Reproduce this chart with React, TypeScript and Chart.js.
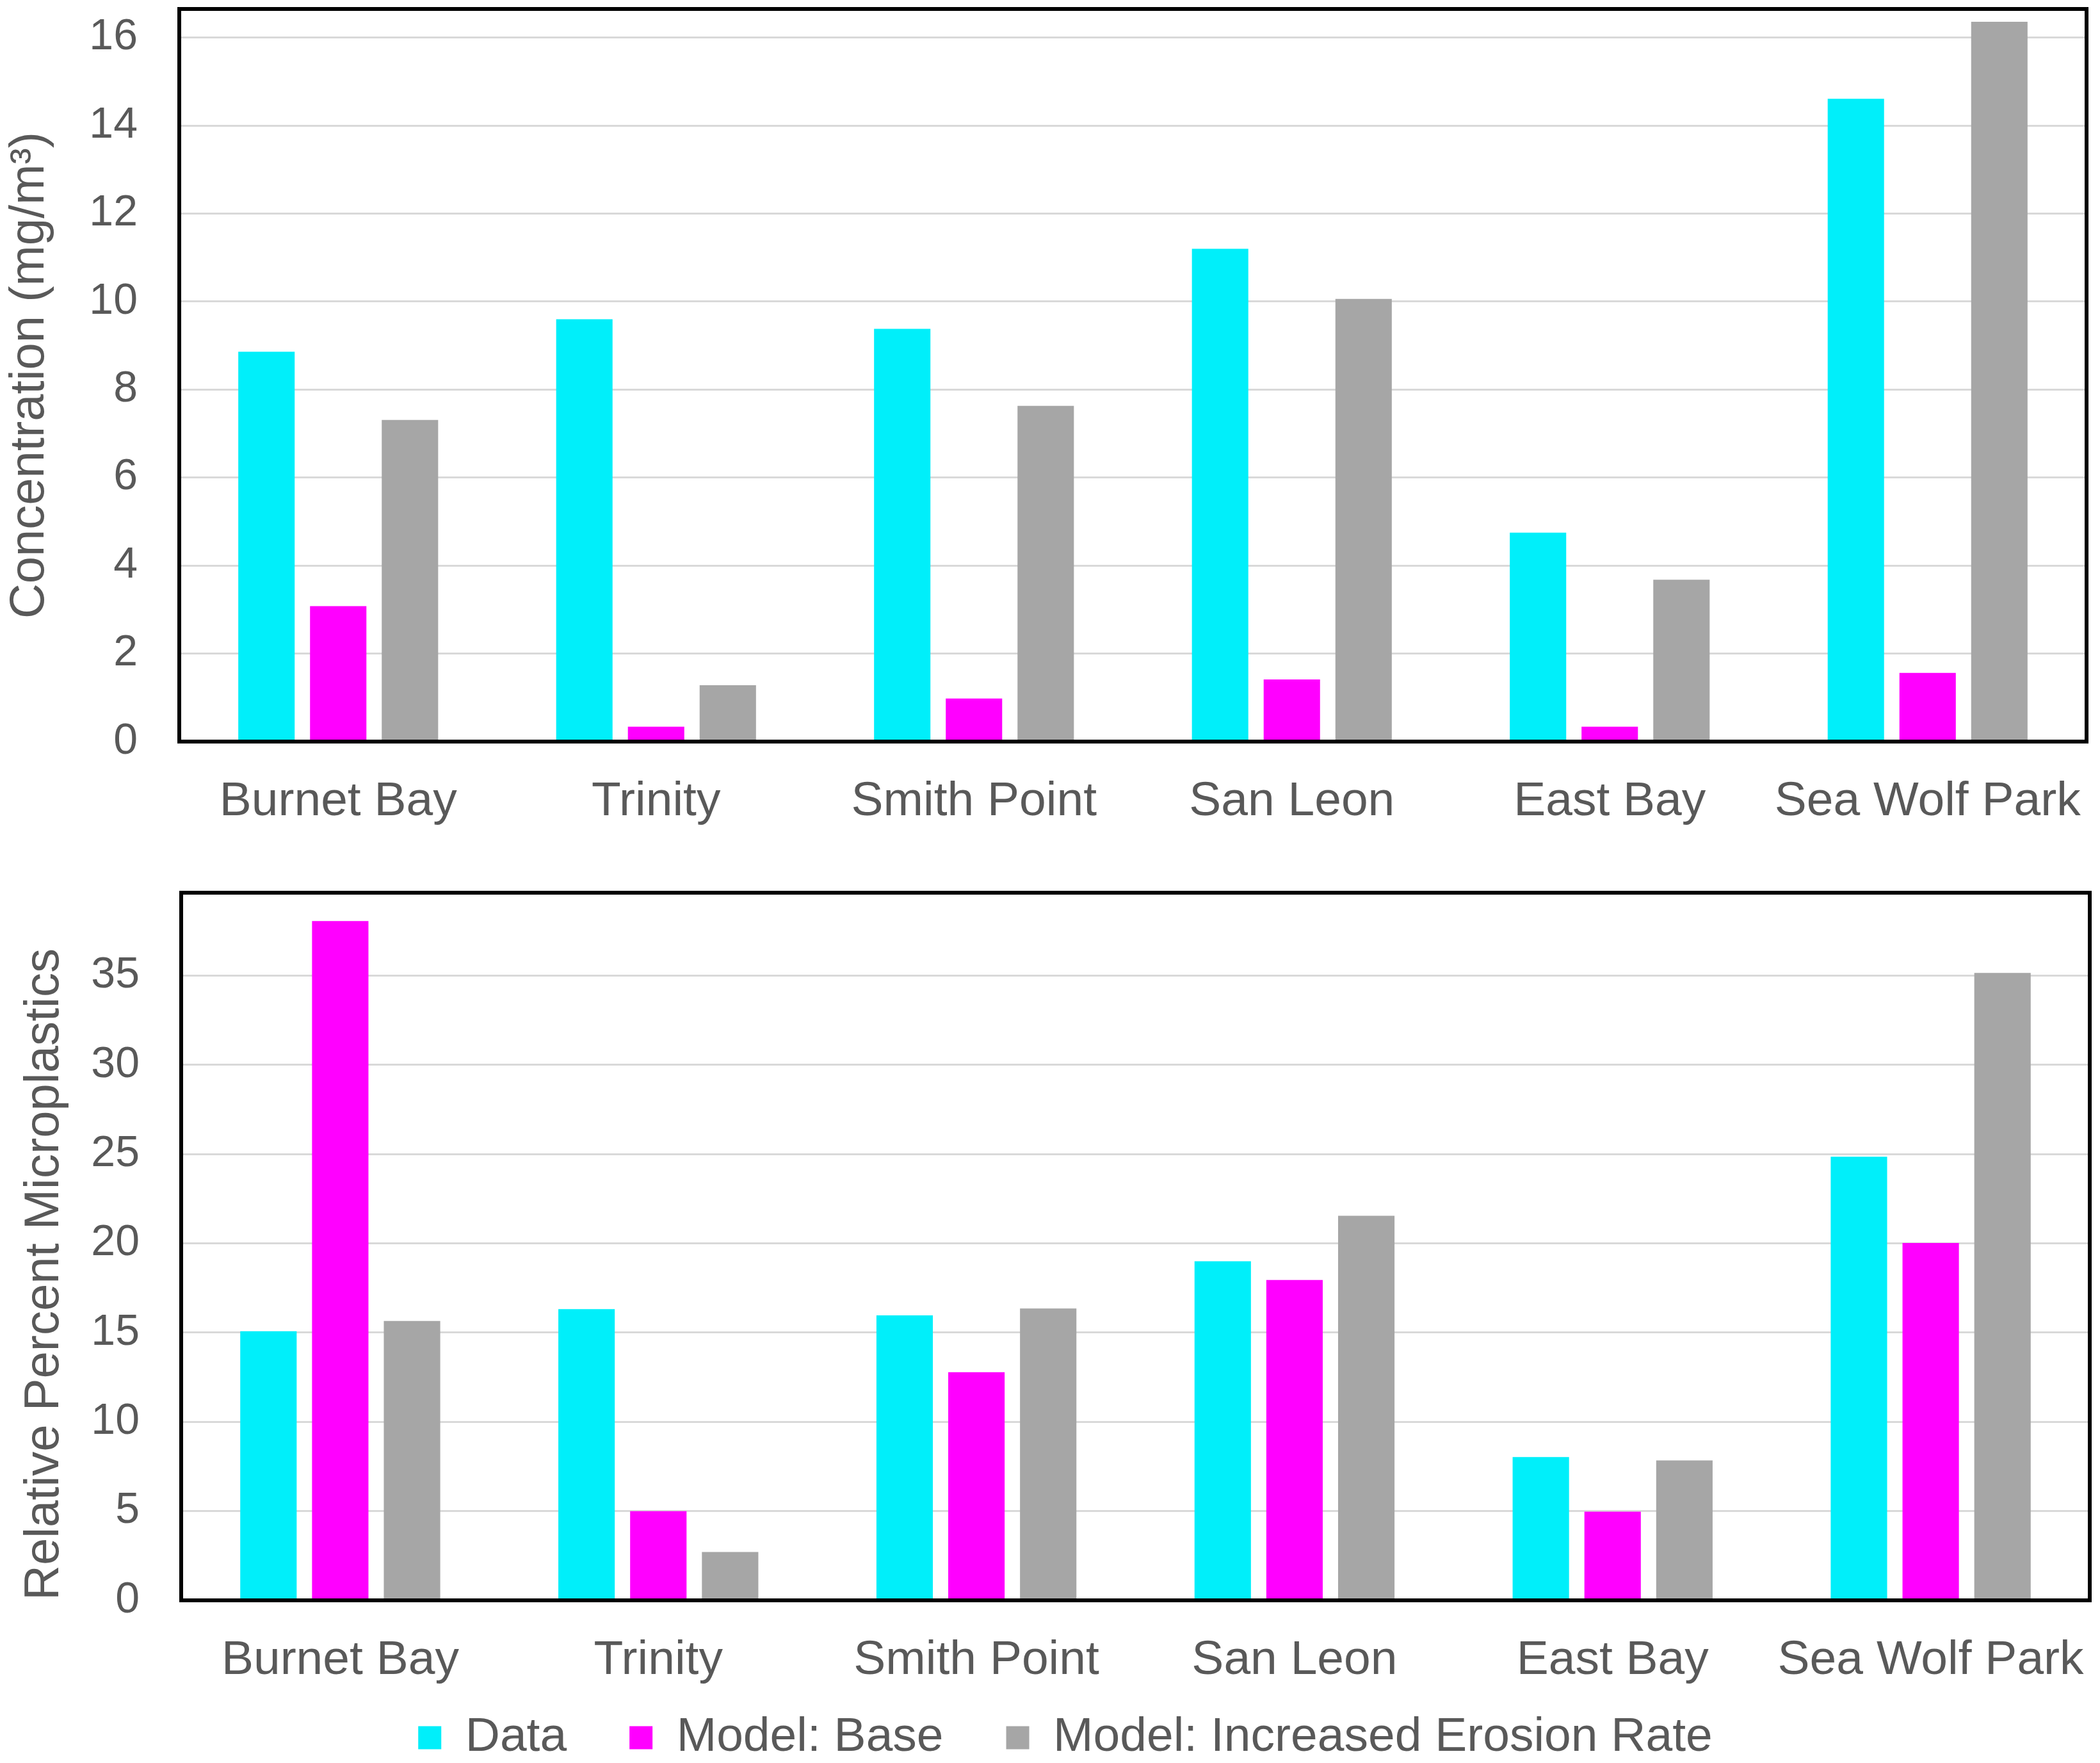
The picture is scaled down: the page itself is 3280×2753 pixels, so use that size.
import React, { useEffect, useRef } from 'react';
import Chart from 'chart.js/auto';

// sampling sites (x categories)
const sites = ['Burnet Bay', 'Trinity', 'Smith Point', 'San Leon', 'East Bay', 'Sea Wolf Park'];
const seriesNames = ['Data', 'Model: Base', 'Model: Increased Erosion Rate'];
const seriesColors = ['#00EFFA', '#FF00FF', '#A6A6A6'];

// top panel: concentration (mg/m3)
const concData = [8.86, 9.6, 9.38, 11.2, 4.75, 14.61];
const concBase = [3.08, 0.34, 0.98, 1.41, 0.34, 1.56];
const concErosion = [7.31, 1.28, 7.63, 10.06, 3.68, 16.36];

// bottom panel: relative percent microplastics
const pctData = [15.08, 16.32, 15.97, 19.0, 8.03, 24.86];
const pctBase = [38.06, 5.0, 12.78, 17.95, 4.97, 20.02];
const pctErosion = [15.65, 2.71, 16.35, 21.55, 7.84, 35.16];

const FONT = "'Liberation Sans', Arial, sans-serif";
const TEXT = '#595959';

// black box around the plot area
const framePlugin = {
  id: 'frame',
  afterDatasetsDraw(chart: any) {
    const { ctx, chartArea: a } = chart;
    ctx.save();
    ctx.strokeStyle = '#000';
    ctx.lineWidth = 6;
    ctx.strokeRect(a.left, a.top, a.right - a.left, a.bottom - a.top);
    ctx.restore();
  },
};

// x labels are clipped to the axis box, give them room below a short axis;
// also nudge the legend a bit to the right like in the original
const layoutTweaks = {
  id: 'layoutTweaks',
  afterLayout(chart: any) {
    const x = chart.scales.x;
    if (x) x.bottom = Math.max(x.bottom, x.top + 160);
    const lg = chart.legend;
    if (lg && lg.options.display) {
      lg.left += 32;
      lg.right += 32;
    }
  },
};

type PanelOpts = {
  values: number[][];
  yTitle: string;
  yMax: number;
  yStep: number;
  yWidth: number;
  xHeight: number;
  padding: { top: number; right: number; bottom: number; left: number };
  titlePad: number;
  titleAlign: 'start' | 'center' | 'end';
  showLegend: boolean;
};

function makeConfig(o: PanelOpts): any {
  return {
    type: 'bar',
    data: {
      labels: sites,
      datasets: o.values.map((v, i) => ({
        label: seriesNames[i],
        data: v,
        backgroundColor: seriesColors[i],
        borderWidth: 0,
        categoryPercentage: 0.677,
        barPercentage: 0.786,
      })),
    },
    options: {
      responsive: false,
      animation: false,
      layout: { padding: o.padding },
      plugins: {
        tooltip: { enabled: false },
        legend: {
          display: o.showLegend,
          position: 'bottom',
          labels: {
            boxWidth: 36,
            boxHeight: 36,
            padding: 98,
            color: TEXT,
            font: { family: FONT, size: 75 },
          },
        },
      },
      scales: {
        x: {
          grid: { display: false, drawTicks: false },
          border: { display: false },
          ticks: {
            color: TEXT,
            font: { family: FONT, size: 75 },
            padding: 49,
            maxRotation: 0,
            autoSkip: false,
          },
          afterFit: (s: any) => {
            s.height = o.xHeight;
            s.paddingLeft = 0;
            s.paddingRight = 0;
          },
        },
        y: {
          min: 0,
          max: o.yMax,
          grid: { color: '#D9D9D9', lineWidth: 3, drawTicks: false },
          border: { display: false },
          ticks: {
            stepSize: o.yStep,
            includeBounds: false,
            color: TEXT,
            font: { family: FONT, size: 68 },
            padding: 65,
          },
          title: {
            display: true,
            text: o.yTitle,
            color: TEXT,
            align: o.titleAlign,
            font: { family: FONT, size: 76 },
            padding: { top: o.titlePad, bottom: 0 },
          },
          afterFit: (s: any) => {
            s.width = o.yWidth;
            s.paddingTop = 0;
            s.paddingBottom = 0;
          },
        },
      },
    },
    plugins: [framePlugin, layoutTweaks],
  };
}

const Panel: React.FC<{ opts: PanelOpts; width: number; height: number; top: number }> = ({ opts, width, height, top }) => {
  const ref = useRef<HTMLCanvasElement | null>(null);

  useEffect(() => {
    if (!ref.current) return;
    const chart = new Chart(ref.current, makeConfig(opts));
    return () => {
      chart.destroy();
    };
  }, [opts]);

  return (
    <canvas
      ref={ref}
      width={width}
      height={height}
      style={{ position: 'absolute', left: 0, top, width, height, display: 'block' }}
    />
  );
};

const topOpts: PanelOpts = {
  values: [concData, concBase, concErosion],
  yTitle: 'Concentration (mg/m³)',
  yMax: 16.65,
  yStep: 2,
  yWidth: 280,
  xHeight: 162,
  padding: { top: 14, right: 21, bottom: 0, left: 0 },
  titlePad: 1,
  titleAlign: 'center',
  showLegend: false,
};

const bottomOpts: PanelOpts = {
  values: [pctData, pctBase, pctErosion],
  yTitle: 'Relative Percent Microplastics',
  yMax: 39.65,
  yStep: 5,
  yWidth: 283,
  xHeight: 79,
  padding: { top: 74, right: 16, bottom: 0, left: 0 },
  titlePad: 24,
  titleAlign: 'start',
  showLegend: true,
};

export default function App() {
  return (
    <div
      style={{
        position: 'fixed',
        left: 0,
        top: 0,
        width: 3280,
        height: 2753,
        overflow: 'hidden',
        background: '#fff',
      }}
    >
      <Panel opts={topOpts} width={3280} height={1320} top={0} />
      <Panel opts={bottomOpts} width={3280} height={1441} top={1320} />
    </div>
  );
}
